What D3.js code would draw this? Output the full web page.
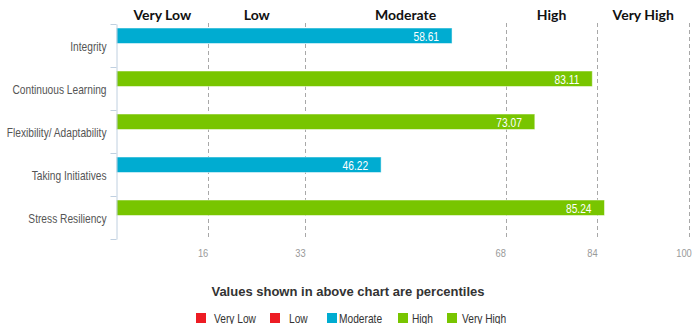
<!DOCTYPE html>
<html>
<head>
<meta charset="utf-8">
<script src="https://cdn.jsdelivr.net/npm/d3@7"></script>
<style>
  body { margin: 0; background: #fff; }
  #visualization { width: 694px; height: 324px; }
</style>
</head>
<body>
<div id="visualization"></div>
<script>
// Data
const categories = ["Integrity", "Continuous Learning", "Flexibility/ Adaptability", "Taking Initiatives", "Stress Resiliency"];
const values = [58.61, 83.11, 73.07, 46.22, 85.24];
const levels = ["Moderate", "High", "High", "Moderate", "High"];
const bandTicks = [16, 33, 68, 84, 100];
const bandNames = ["Very Low", "Low", "Moderate", "High", "Very High"];
const legendColors = ["#ed1c24", "#ed1c24", "#00acd1", "#78c500", "#78c500"];

// No narrow font installed: squeeze Liberation Sans horizontally
const squeeze = 0.85;

function createBarChart() {
    d3.select("#visualization").html("");

    const width = 694;
    const height = 324;
    const marginTop = 24;
    const marginLeft = 116.5;
    const plotRight = 689;
    const plotBottom = 239;

    const color = d3.scaleOrdinal().domain(bandNames).range(legendColors);

    const x = d3.scaleLinear()
        .domain([0, 100])
        .range([marginLeft, plotRight]);

    const y = d3.scaleBand()
        .domain(categories)
        .range([marginTop, plotBottom]);

    const svg = d3.create("svg")
        .attr("width", width)
        .attr("height", height)
        .attr("viewBox", [0, 0, width, height])
        .attr("style", "font-family: 'Liberation Sans', Arial, sans-serif;");

    // Dashed band separators
    svg.append("g")
        .selectAll("line")
        .data(bandTicks)
        .join("line")
        .attr("x1", d => Math.round(x(d)) + 0.5)
        .attr("x2", d => Math.round(x(d)) + 0.5)
        .attr("y1", marginTop - 1)
        .attr("y2", plotBottom)
        .attr("stroke", "#a8a8a8")
        .attr("stroke-dasharray", "4,3");

    // Band names on top
    const bandStarts = [0].concat(bandTicks.slice(0, -1));
    svg.append("g")
        .selectAll("text")
        .data(bandNames)
        .join("text")
        .attr("x", (d, i) => x((bandStarts[i] + bandTicks[i]) / 2))
        .attr("y", 20)
        .attr("text-anchor", "middle")
        .attr("font-family", "Lato, 'DejaVu Sans', sans-serif")
        .attr("font-weight", "bold")
        .attr("font-size", 14)
        .attr("fill", "#111")
        .text(d => d);

    // Bars
    svg.append("g")
        .selectAll("rect")
        .data(categories)
        .join("rect")
        .attr("x", x(0))
        .attr("y", d => y(d) + 4)
        .attr("width", (d, i) => x(values[i]) - x(0))
        .attr("height", 15.5)
        .attr("fill", (d, i) => color(levels[i]))
        .attr("stroke", "#ffffff")
        .attr("stroke-opacity", 0.5)
        .attr("stroke-width", 1);

    // Value labels inside bars
    svg.append("g")
        .selectAll("text")
        .data(categories)
        .join("text")
        .attr("transform", (d, i) => `translate(${x(values[i]) - 13},${y(d) + 16.5}) scale(${squeeze},1)`)
        .attr("text-anchor", "end")
        .attr("font-size", 12)
        .attr("fill", "#fff")
        .text((d, i) => values[i].toFixed(2));

    // Y axis
    const gy = svg.append("g")
        .attr("transform", `translate(${marginLeft},0)`)
        .call(d3.axisLeft(y).tickSize(0).tickPadding(10));
    gy.select(".domain").attr("stroke", "#c0d0e0");
    gy.selectAll(".tick text")
        .attr("x", null)
        .attr("transform", `translate(-10,0) scale(${squeeze},1)`)
        .attr("font-size", 12)
        .attr("fill", "#555")
        .attr("font-family", "'Liberation Sans', Arial, sans-serif")
        .attr("dy", "0.45em");

    // Boundary tick marks on the y axis
    svg.append("g")
        .selectAll("line")
        .data(categories.map(c => y(c)).concat([plotBottom]))
        .join("line")
        .attr("x1", marginLeft - 6)
        .attr("x2", marginLeft)
        .attr("y1", d => Math.round(d) + 0.5)
        .attr("y2", d => Math.round(d) + 0.5)
        .attr("stroke", "#c0d0e0");

    // X tick labels
    svg.append("g")
        .selectAll("text")
        .data(bandTicks)
        .join("text")
        .attr("transform", d => `translate(${x(d) - 5},257) scale(${squeeze},1)`)
        .attr("text-anchor", "middle")
        .attr("font-size", 11)
        .attr("fill", "#9a9a9a")
        .text(d => d);

    // Title below
    svg.append("text")
        .attr("x", 348)
        .attr("y", 296)
        .attr("text-anchor", "middle")
        .attr("font-size", 13)
        .attr("font-weight", "bold")
        .attr("fill", "#333")
        .text("Values shown in above chart are percentiles");

    // Legend
    const legendSquareX = [196, 270, 327, 398, 447];
    const legendTextX = [214, 289, 339, 412, 462];
    const legend = svg.append("g")
        .selectAll("g")
        .data(bandNames)
        .join("g");
    legend.append("rect")
        .attr("x", (d, i) => legendSquareX[i])
        .attr("y", 313)
        .attr("width", 10)
        .attr("height", 10)
        .attr("fill", d => color(d));
    legend.append("text")
        .attr("transform", (d, i) => `translate(${legendTextX[i]},322.5) scale(${squeeze},1)`)
        .attr("font-size", 12)
        .attr("fill", "#333")
        .text(d => d);

    document.getElementById("visualization").appendChild(svg.node());
}

createBarChart();
</script>
</body>
</html>
